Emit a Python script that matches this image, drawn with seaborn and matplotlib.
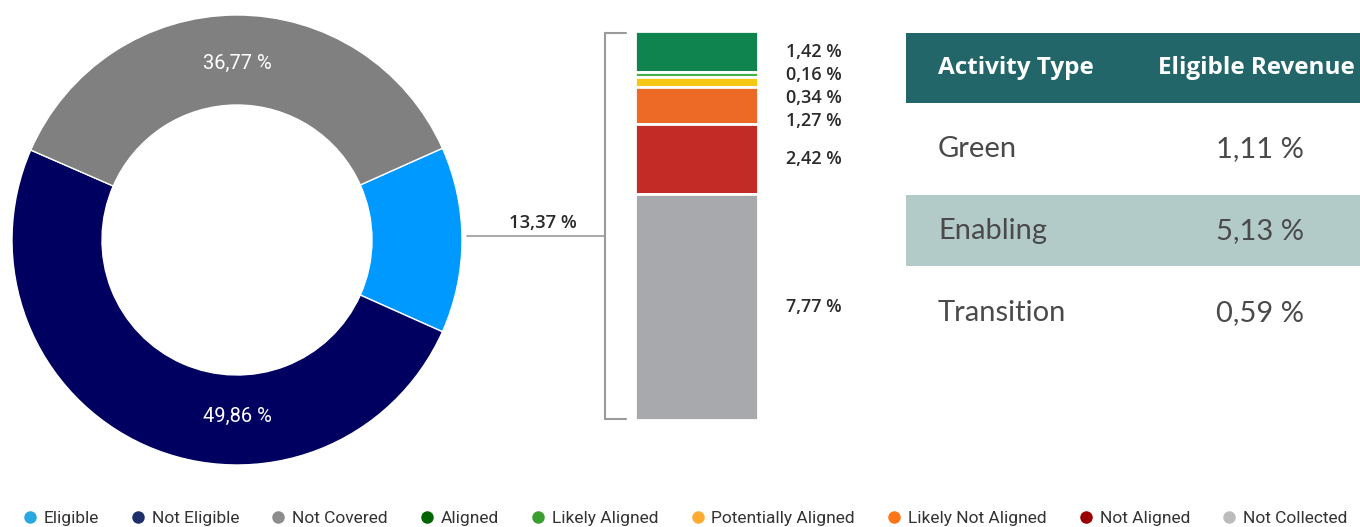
import numpy as np
import matplotlib
matplotlib.use("Agg")
import matplotlib.pyplot as plt
from matplotlib.lines import Line2D
from matplotlib.patches import Rectangle
import seaborn as sns

# Donut data (share of revenue)
donut_labels = ["Eligible", "Not Eligible", "Not Covered"]
donut_values = [13.37, 49.86, 36.77]
donut_colors = ["#0099FF", "#000060", "#808080"]

# Breakdown of the eligible part
bar_labels = ["Aligned", "Likely Aligned", "Potentially Aligned",
              "Likely Not Aligned", "Not Aligned", "Not Collected"]
bar_values = [1.42, 0.16, 0.34, 1.27, 2.42, 7.77]
bar_colors = ["#10844E", "#45B04A", "#F5C815", "#EC6A25", "#C22B26", "#A8A9AD"]

# Table
activity_types = ["Green", "Enabling", "Transition"]
eligible_revenue = [1.11, 5.13, 0.59]

# Legend
legend_labels = donut_labels + bar_labels
legend_colors = ["#29A8E0", "#1F2F6B", "#8C8C8C", "#006400", "#3A9E2E",
                 "#FFAA33", "#FF7518", "#990000", "#BBBBBB"]


def fmt(v):
    return f"{v:.2f}".replace(".", ",") + " %"


sns.set_theme(style="white")
plt.rcParams["font.family"] = ["Lato", "DejaVu Sans"]

W, H = 1360, 527
fig = plt.figure(figsize=(W / 100, H / 100), dpi=100)
fig.patch.set_facecolor("white")

# overlay axes in pixel coordinates (bracket, table, labels)
ov = fig.add_axes([0, 0, 1, 1])
ov.set_xlim(0, W)
ov.set_ylim(H, 0)
ov.axis("off")

# ---- Donut ----
cx, cy, R = 237, 240, 225
axp = fig.add_axes([(cx - R) / W, (H - cy - R) / H, 2 * R / W, 2 * R / H])
start = donut_values[0] / 100 * 180  # eligible slice centred on the right
wedges, _ = axp.pie(donut_values, colors=donut_colors, startangle=start,
                    counterclock=False, radius=1,
                    wedgeprops=dict(width=0.4, edgecolor="white", linewidth=1))
axp.set_xlim(-1, 1)
axp.set_ylim(-1, 1)
axp.set_aspect("equal")
# value labels: bottom for not eligible, top for not covered
for v, ang in zip(donut_values[1:], [270, 90]):
    a = np.deg2rad(ang)
    axp.text(0.785 * np.cos(a), 0.785 * np.sin(a), fmt(v), color="white",
             ha="center", va="center", fontsize=14.5, family="Roboto")

# ---- Stacked bar ----
bx0, bx1, by0, by1 = 635, 758, 31, 420
axb = fig.add_axes([bx0 / W, (H - by1) / H, (bx1 - bx0) / W, (by1 - by0) / H])
total = sum(bar_values)
bottoms = np.concatenate([[0], np.cumsum(bar_values)[:-1]])
for v, b, c in zip(bar_values, bottoms, bar_colors):
    axb.bar(0, v, bottom=b, width=1, color=c, edgecolor="white", linewidth=2.0)
axb.set_xlim(-0.5, 0.5)
axb.set_ylim(total, 0)
axb.axis("off")

# labels to the right, pushed apart when crowded
centers = bottoms + np.array(bar_values) / 2
pos = []
for c in centers:
    p = c if not pos else max(c, pos[-1] + 0.8)
    pos.append(p)
for v, p in zip(bar_values, pos):
    ypx = by0 + p / total * (by1 - by0)
    ov.text(786, ypx, fmt(v), ha="left", va="center", fontsize=13,
            fontweight="semibold", family="Open Sans", color="#2a2a2a")

# bracket and connector
bc = "#9a9a9a"
ov.plot([605, 605], [33, 419], color=bc, lw=1.5)
ov.plot([605, 626], [33, 33], color=bc, lw=1.5)
ov.plot([605, 626], [419, 419], color=bc, lw=1.5)
ov.plot([467, 605], [236, 236], color=bc, lw=1.2)
ov.text(543, 223, fmt(donut_values[0]), ha="center", va="center",
        fontsize=13.3, fontweight="semibold", family="Open Sans", color="#2a2a2a")

# ---- Table ----
tx0 = 906
ov.add_patch(Rectangle((tx0, 33), W - tx0, 70, color="#22666A", lw=0))
ov.text(938, 68, "Activity Type", color="white", fontsize=17.5,
        fontweight="bold", family="Open Sans", va="center", ha="left")
ov.text(1158, 68, "Eligible Revenue", color="white", fontsize=17.5,
        fontweight="bold", family="Open Sans", va="center", ha="left")
row_y = [149 + 82 * i for i in range(len(activity_types))]
for i, (name, val) in enumerate(zip(activity_types, eligible_revenue)):
    y = row_y[i]
    if i % 2 == 1:
        ov.add_patch(Rectangle((tx0, y - 36), W - tx0, 71, color="#B3CBC8", lw=0))
    ov.text(938, y, name, fontsize=21, fontweight="normal", color="#4a4a4a",
            va="center", ha="left")
    ov.text(1260, y, fmt(val), fontsize=21, fontweight="normal", color="#4a4a4a",
            va="center", ha="center")

# ---- Legend ----
handles = [Line2D([], [], marker="o", ls="", markersize=9, color=c,
                  markeredgewidth=0) for c in legend_colors]
fig.legend(handles, legend_labels, loc="lower center", ncol=len(legend_labels),
           bbox_to_anchor=(0.503, -0.028), frameon=False, handletextpad=0.3,
           columnspacing=1.75, prop=dict(family="Roboto", size=12.5),
           labelcolor="#333333", handlelength=1.0)

fig.savefig("out.png", dpi=100, facecolor="white")
